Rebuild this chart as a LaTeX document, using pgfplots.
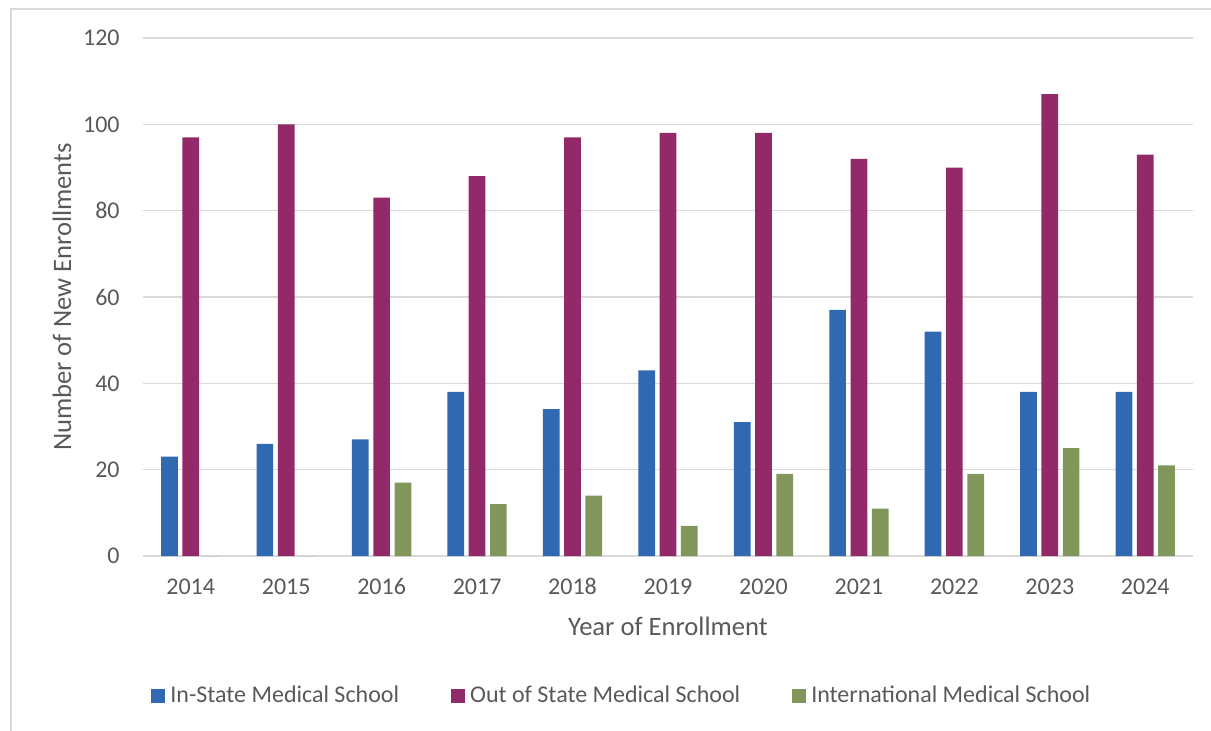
\documentclass[border=0pt]{standalone}
\usepackage{pgfplots}
\pgfplotsset{compat=1.18}
\usepackage{fontspec}
\setmainfont{Carlito}
\definecolor{cblue}{HTML}{3068B2}
\definecolor{cpurple}{HTML}{922A6A}
\definecolor{cgreen}{HTML}{80965A}
\definecolor{cgrid}{HTML}{D9D9D9}
\definecolor{ctext}{HTML}{595959}
\pgfplotstableread{
x year instate outstate intl
0 2014 23 97 0
1 2015 26 100 0
2 2016 27 83 17
3 2017 38 88 12
4 2018 34 97 14
5 2019 43 98 7
6 2020 31 98 19
7 2021 57 92 11
8 2022 52 90 19
9 2023 38 107 25
10 2024 38 93 21
}\datatable
\begin{document}
\begin{tikzpicture}
\useasboundingbox (0,0) rectangle (605.5pt,365pt);
\draw[cgrid, line width=0.8pt] (5.5pt,-10pt) -- (5.5pt,360.5pt) -- (620pt,360.5pt);
\begin{axis}[
  at={(71.5pt,87pt)}, anchor=south west,
  scale only axis, width=525pt, height=259pt,
  ybar, bar width=8.35pt,
  xmin=-0.5, xmax=10.5, ymin=0, ymax=120,
  xtick=data, xticklabels={2014,2015,2016,2017,2018,2019,2020,2021,2022,2023,2024},
  ytick={0,20,...,120},
  /pgf/number format/assume math mode=true,
  axis line style={draw=none},
  major tick length=0pt,
  ymajorgrids, grid style={cgrid, line width=0.8pt},
  tick label style={font=\fontsize{12}{14}\selectfont, text=ctext},
  yticklabel style={anchor=east, inner sep=0pt, xshift=-11.5pt},
  xticklabel style={anchor=base, inner sep=0pt, yshift=-19.3pt},
  legend columns=3,
  legend style={draw=none, fill=none, at={(axis description cs:0.0076,-0.2703)}, anchor=west,
    font=\fontsize{12}{14}\selectfont, text=ctext, inner sep=0pt,
    nodes={inner sep=0pt},
    /tikz/every odd column/.append style={column sep=2.5pt},
    /tikz/every even column/.append style={column sep=26pt}},
  legend image code/.code={\fill[#1] (0pt,-3.5pt) rectangle (7pt,3.5pt);},
]
\addplot[fill=cblue, draw=none, bar shift=-10.65pt] table[x=x, y=instate] {\datatable};
\addplot[fill=cpurple, draw=none, bar shift=0pt] table[x=x, y=outstate] {\datatable};
\addplot[fill=cgreen, draw=none, bar shift=10.65pt] table[x=x, y=intl] {\datatable};
\legend{In-State Medical School, Out of State Medical School, International Medical School}
\end{axis}
\node[text=ctext, font=\fontsize{13.3}{16}\selectfont] at (334pt,52pt) {Year of Enrollment};
\node[text=ctext, font=\fontsize{13.3}{16}\selectfont, rotate=90] at (31pt,216.5pt) {Number of New Enrollments};
\end{tikzpicture}
\end{document}
